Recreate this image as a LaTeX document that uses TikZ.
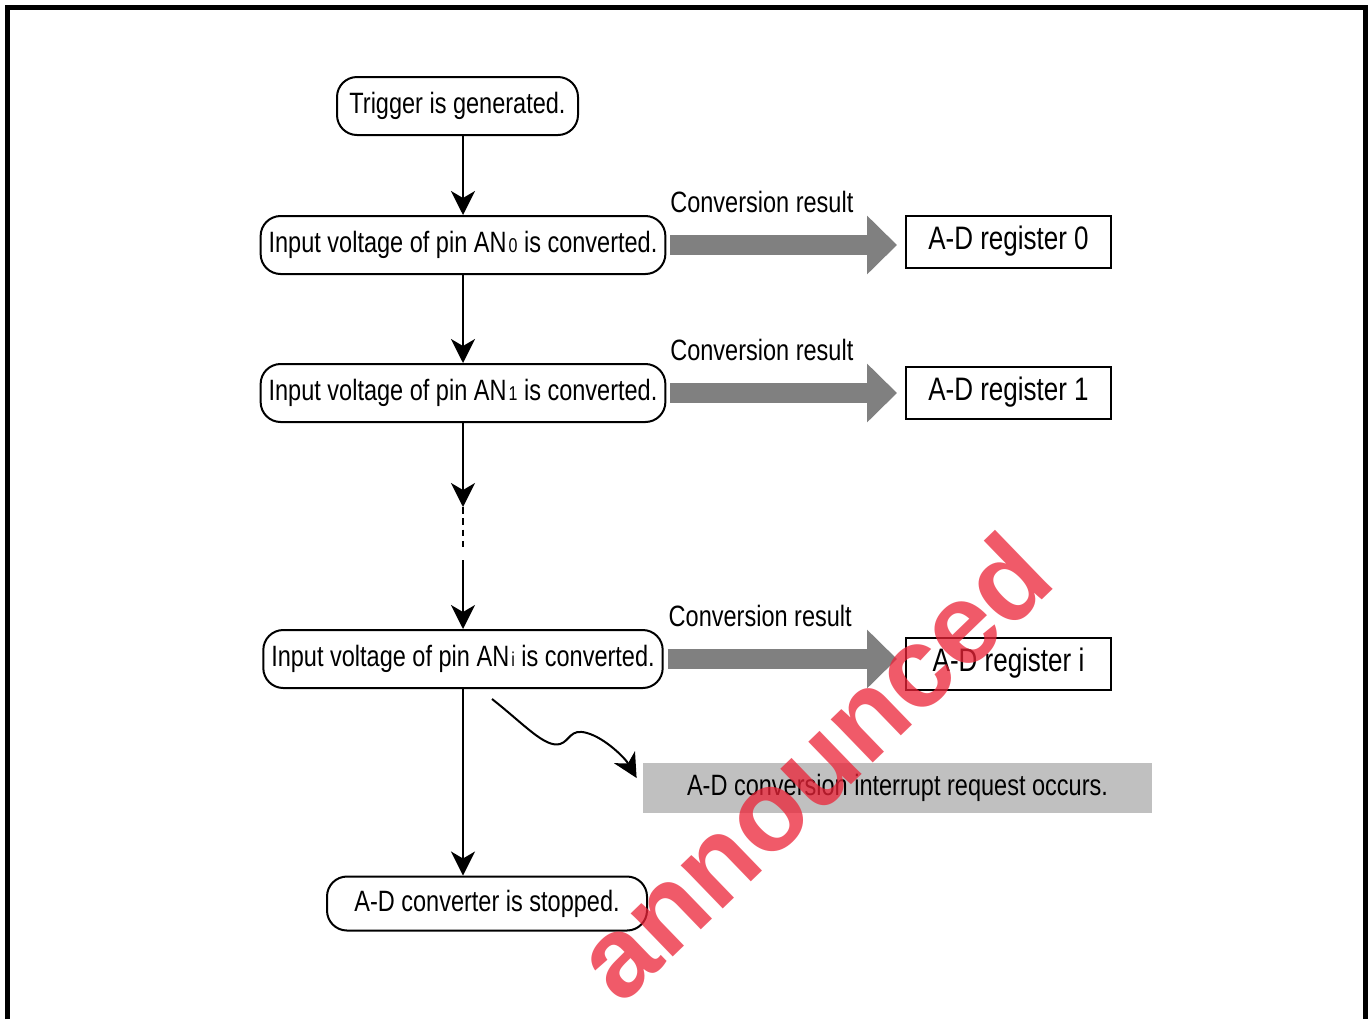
\documentclass[tikz,border=0pt]{standalone}
\usepackage{fontspec}
\setmainfont{Liberation Sans}[FakeStretch=0.8]
\newfontfamily\markfont{Liberation Sans}
\usetikzlibrary{arrows.meta,positioning}
\definecolor{arrowgray}{RGB}{128,128,128}
\definecolor{irqgray}{RGB}{192,192,192}
\definecolor{stamp}{RGB}{235,35,55}
\newcommand{\pinno}[1]{\kern1pt{\fontsize{10}{10}\selectfont #1}}

\begin{document}
\begin{tikzpicture}[x=0.5pt,y=-0.5pt,>={Stealth[length=12pt,width=12pt,inset=3.5pt]},
  every node/.style={font=\fontsize{14.7}{17}\selectfont},
  flowbox/.style={draw,line width=1pt,rounded corners=10pt,minimum height=29pt,inner xsep=4pt},
  regbox/.style={draw,line width=1pt,minimum width=102.5pt,minimum height=26pt,font=\fontsize{16.25}{19}\selectfont},
  flow/.style={->,line width=1pt},
  result/.style={line width=10pt,draw=arrowgray,-{Triangle[length=15pt,width=28.5pt]},shorten <=2pt,shorten >=4pt},
  reslabel/.style={above=16pt,inner sep=0pt,outer sep=0pt,pos=0.4}]
\useasboundingbox (0,0) rectangle (1369,1019);
\draw[line width=2.5pt] (7,1019) -- (7,7) -- (1365,7) -- (1365,1019);

\node[flowbox,minimum width=120.5pt] (trig) at (457.5,106) {Trigger is generated.};
\node[flowbox] (an0) at (463,245) {Input voltage of pin AN\pinno{0} is converted.};
\node[flowbox] (an1) at (463,393) {Input voltage of pin AN\pinno{1} is converted.};
\node[flowbox] (ani) at (463,659) {Input voltage of pin AN\pinno{i} is converted.};
\node[flowbox,minimum width=160pt,minimum height=27pt] (stop) at (487,903.5) {A-D converter is stopped.};

\node[regbox] (reg0) at (1008.5,241.5) {A-D register 0};
\node[regbox] (reg1) at (1008.5,392.5) {A-D register 1};
\node[regbox] (regi) at (1008.5,663.5) {A-D register i};
\node[fill=irqgray,minimum width=254.5pt,minimum height=25pt] (irq) at (897.5,788) {A-D conversion interrupt request occurs.};

\coordinate (gap1) at (463,507);
\coordinate (gap2) at (463,547);
\coordinate (gap3) at (463,560);
\coordinate (wave) at (492,699);

\draw[flow] (trig.south -| an0.north) -- (an0.north);
\draw[flow] (an0.south) -- (an1.north);
\draw[flow] (an1.south) -- (gap1);
\draw[line width=1.1pt,dash pattern=on 3.25pt off 2.4pt] (gap1) -- (gap2);
\draw[flow] (gap3) -- (ani.north);
\draw[flow] (ani.south) -- (ani.south |- stop.north);
\draw[flow] (wave) .. controls (525,725) and (545,748) .. (560,744)
  .. controls (570,741) and (570,728) .. (587,733)
  .. controls (605,738) and (625,758) .. ([xshift=-3pt,yshift=5pt]irq.west);

\draw[result] (an0.east) -- (an0.east -| reg0.west) node[reslabel] (res0) {Conversion result};
\draw[result] (an1.east) -- (an1.east -| reg1.west) node[reslabel] (res1) {Conversion result};
\draw[result] (ani.east) -- (ani.east -| regi.west) node[reslabel] (resi) {Conversion result};

\node[font=\markfont\bfseries\fontsize{57}{60}\selectfont,text=stamp,opacity=0.75,rotate=44] (stampmark) at (812,766) {announced};
\end{tikzpicture}
\end{document}
